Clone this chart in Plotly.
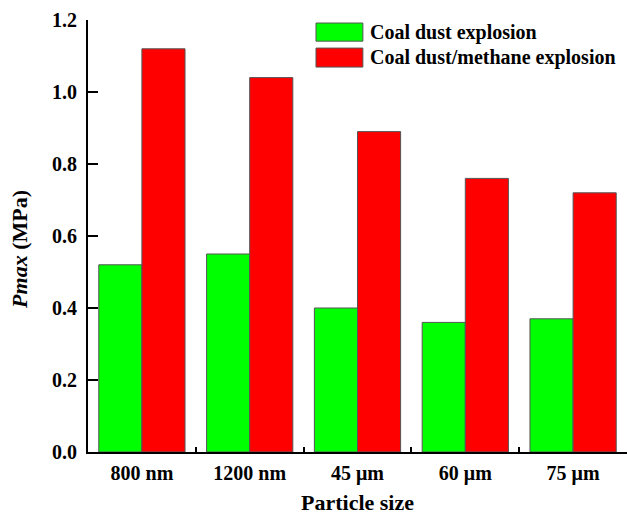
import plotly.graph_objects as go

# Particle-size categories and peak explosion pressure (MPa)
sizes = ["800 nm", "1200 nm", "45 μm", "60 μm", "75 μm"]
coal_dust = [0.52, 0.55, 0.40, 0.36, 0.37]
coal_methane = [1.12, 1.04, 0.89, 0.76, 0.72]
series_names = ["Coal dust explosion", "Coal dust/methane explosion"]
series_colors = ["#00ff00", "#ff0000"]

FONT = "Liberation Serif"

fig = go.Figure()
for name, vals, col in zip(series_names, [coal_dust, coal_methane], series_colors):
    fig.add_trace(go.Bar(
        x=sizes, y=vals, name=name,
        marker=dict(color=col, line=dict(color="#555555", width=1)),
        showlegend=False,
    ))

fig.update_layout(
    width=627, height=515,
    margin=dict(l=88, r=0, t=20, b=63),
    paper_bgcolor="white", plot_bgcolor="white",
    barmode="group", bargap=0.2, bargroupgap=0,
    font=dict(family=FONT, size=20, color="black", weight="bold"),
    xaxis=dict(
        range=[-0.5, 4.5], automargin=False,
        showline=True, linecolor="black", linewidth=2,
        ticks="inside", tickson="boundaries", ticklen=5, tickwidth=1.5, tickcolor="black",
        ticklabelstandoff=2,
        showgrid=False, zeroline=False,
    ),
    yaxis=dict(
        range=[0, 1.2], dtick=0.2, tickformat=".1f", automargin=False,
        showline=True, linecolor="black", linewidth=2,
        ticks="inside", ticklen=10, tickwidth=2, tickcolor="black",
        ticklabelstandoff=5,
        showgrid=False, zeroline=False,
    ),
)

title_font = dict(family=FONT, size=22, weight="bold", color="black")

# X-axis title
fig.add_annotation(xref="paper", yref="paper", x=0.5, y=-0.116,
                   text="Particle size", showarrow=False,
                   xanchor="center", yanchor="middle", font=title_font)

# Y-axis title, placed slightly below the plot's vertical centre
fig.add_annotation(xref="paper", yref="paper", x=-0.126, y=0.468,
                   text="<i>Pmax</i> (MPa)", textangle=-90, showarrow=False,
                   xanchor="center", yanchor="middle", font=title_font)

# Legend drawn as swatches with labels in the upper right corner
legend_rows = [(0.993, 0.951, 0.972), (0.935, 0.891, 0.914)]
for (y1, y0, yc), name, col in zip(legend_rows, series_names, series_colors):
    fig.add_shape(type="rect", xref="paper", yref="paper",
                  x0=0.423, x1=0.510, y0=y0, y1=y1,
                  fillcolor=col, line=dict(color="#555555", width=1))
    fig.add_annotation(xref="paper", yref="paper", x=0.519, y=yc,
                       text=name, showarrow=False, xanchor="left", yanchor="middle",
                       font=dict(family=FONT, size=20, weight="bold", color="black"))

fig.write_html("out.html")
